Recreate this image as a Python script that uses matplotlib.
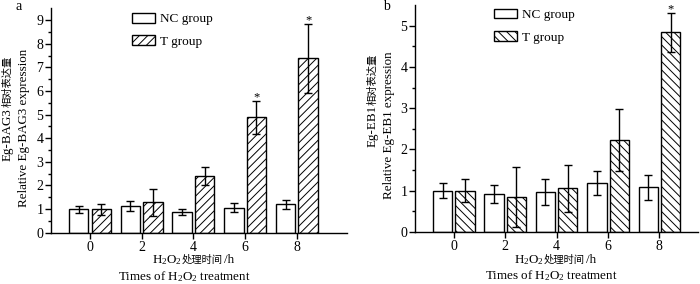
"""
Relative expression of Eg-BAG3 (a) and Eg-EB1 (b) after H2O2 treatment.
Run:  python plot.py
"""

import numpy as np
import matplotlib
matplotlib.use("Agg")
import matplotlib.pyplot as plt
from matplotlib.patches import Patch

plt.rcParams["font.family"] = ["Liberation Serif", "Noto Sans CJK SC", "DejaVu Sans"]
plt.rcParams["font.size"] = 10
plt.rcParams["hatch.linewidth"] = 0.7
plt.rcParams["mathtext.fontset"] = "custom"
plt.rcParams["mathtext.rm"] = "Liberation Serif"
plt.rcParams["mathtext.default"] = "regular"

# data
times = [0, 2, 4, 6, 8]

bag3_nc = [1.00, 1.13, 0.89, 1.06, 1.20]
bag3_nc_err = [0.15, 0.20, 0.12, 0.20, 0.19]
bag3_t = [0.99, 1.28, 2.39, 4.88, 7.38]
bag3_t_err = [0.24, 0.58, 0.39, 0.70, 1.47]
bag3_sig = ["", "", "", "*", "*"]

eb1_nc = [1.00, 0.91, 0.97, 1.18, 1.08]
eb1_nc_err = [0.18, 0.22, 0.31, 0.29, 0.30]
eb1_t = [0.99, 0.84, 1.05, 2.23, 4.84]
eb1_t_err = [0.28, 0.72, 0.57, 0.76, 0.47]
eb1_sig = ["", "", "", "", "*"]

LAT = 9.4   # latin label size
CJK = 7.4   # chinese chars are printed a bit smaller in the original

fig = plt.figure(figsize=(7.0, 2.84), dpi=100)


def compound(pieces, cx, base, vertical=False):
    """Lay text pieces of mixed size end to end, centred on cx (px from
    left, or px from top when vertical), baseline at base."""
    r = fig.canvas.get_renderer()
    W, H = fig.bbox.width, fig.bbox.height
    objs, sizes = [], []
    for s, fs, fam in pieces:
        kw = {"family": fam} if fam else {}
        t = fig.text(0, 0, s, fontsize=fs, rotation=90 if vertical else 0,
                     rotation_mode="anchor", ha="left", va="baseline", **kw)
        bb = t.get_window_extent(r)
        objs.append(t)
        sizes.append((bb.height if vertical else bb.width) + 0.6)
    pos = -sum(sizes) / 2
    for t, s in zip(objs, sizes):
        if vertical:
            t.set_position((base / W, (H - cx + pos) / H))
        else:
            t.set_position(((cx + pos) / W, (H - base) / H))
        pos += s


def panel(rect, nc, nc_err, t, t_err, sig, hatch, ymax, yticks, xmax, leg):
    ax = fig.add_axes(rect)
    x = np.array(times, dtype=float)
    w = 0.75
    ekw = dict(ecolor="black", elinewidth=1.0, capsize=3.2, capthick=1.0)
    ax.bar(x - 0.43, nc, w, yerr=nc_err, color="white", edgecolor="black",
           linewidth=1.0, error_kw=ekw)
    ax.bar(x + 0.44, t, w, yerr=t_err, color="white", edgecolor="black",
           linewidth=1.0, hatch=hatch, error_kw=ekw)
    for xi, ti, ei, s in zip(x, t, t_err, sig):
        if s:
            ax.annotate(s, (xi + 0.44, ti + ei), xytext=(0, 0.5),
                        textcoords="offset points", ha="center",
                        va="baseline", fontsize=9)

    ax.set_xlim(-1.5, xmax)
    ax.set_ylim(0, ymax)
    ax.set_xticks(times)
    ax.set_yticks(yticks)
    ax.set_yticks(np.arange(0.5, ymax, 1.0), minor=True)
    ax.spines[["top", "right"]].set_visible(False)
    for sp in ax.spines.values():
        sp.set_linewidth(1.0)
    ax.tick_params(axis="x", which="major", direction="out", length=4,
                   width=1.0, pad=1.8)
    ax.tick_params(axis="y", which="major", direction="out", length=4,
                   width=1.0, pad=1.5)
    ax.tick_params(axis="y", which="minor", direction="out", length=2,
                   width=1.0)

    handles = [Patch(facecolor="white", edgecolor="black", linewidth=1.0),
               Patch(facecolor="white", edgecolor="black", linewidth=1.0,
                     hatch=hatch)]
    ax.legend(handles, ["NC group", "T group"], frameon=False,
              loc="upper left", bbox_to_anchor=leg, fontsize=9.5,
              borderaxespad=0, borderpad=0, handlelength=1.7,
              handleheight=0.78, handletextpad=0.4, labelspacing=0.75)
    return ax


ax_a = panel([0.0729, 0.1806, 0.423, 0.790], bag3_nc, bag3_nc_err, bag3_t,
             bag3_t_err, bag3_sig, "////", 9.5, range(0, 10), 9.95,
             (0.274, 0.98))
ax_b = panel([0.593, 0.184, 0.404, 0.798], eb1_nc, eb1_nc_err, eb1_t,
             eb1_t_err, eb1_sig, "\\\\\\\\", 5.5, range(0, 6), 9.5,
             (0.28, 0.985))

h2o2 = "H$_2$O$_2$"
for gene, yl1, yl2, xl1, xl2 in [
        ("Eg-BAG3", (108, 11), (128, 27), (193, 263), (185, 280)),
        ("Eg-EB1", (100, 376), (125, 392), (555, 263), (552, 279))]:
    compound([(gene, LAT, None), ("相对表达量", CJK, "Noto Sans CJK SC")],
             *yl1, vertical=True)
    compound([(f"Relative {gene} expression", LAT, None)], *yl2,
             vertical=True)
    compound([(h2o2, LAT, None), ("处理时间", CJK, "Noto Sans CJK SC"),
              ("/h", LAT, None)], *xl1)
    compound([(f"Times of {h2o2} treatment", LAT, None)], *xl2)

fig.text(19 / 700, 1 - 7 / 284, "a", ha="center", va="center", fontsize=10)
fig.text(386 / 700, 1 - 6 / 284, "b", ha="center", va="center", fontsize=10)

plt.savefig("out.png", dpi=100)
